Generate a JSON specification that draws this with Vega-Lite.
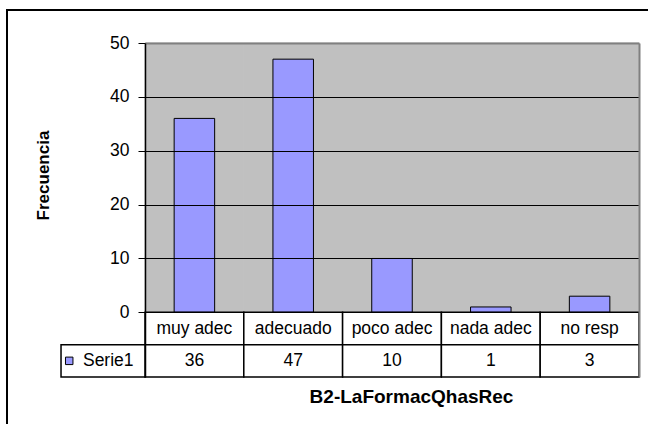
{
  "$schema": "https://vega.github.io/schema/vega-lite/v6.json",
  "autosize": "none",
  "padding": {"left": 7, "top": 10, "right": -6, "bottom": -6},
  "width": 647,
  "height": 420,
  "background": "white",
  "config": {
    "view": {"stroke": "black", "strokeWidth": 2, "fill": "white"},
    "font": "Liberation Sans",
    "text": {"font": "Liberation Sans", "fontSize": 17.5, "color": "black"}
  },
  "data": {"values": [
    {"cat": "muy adec", "v": 36},
    {"cat": "adecuado", "v": 47},
    {"cat": "poco adec", "v": 10},
    {"cat": "nada adec", "v": 1},
    {"cat": "no resp", "v": 3}
  ]},
  "resolve": {"axis": {"x": "independent", "y": "independent"}},
  "layer": [
    {
      "mark": {"type": "rect", "color": "#C0C0C0", "stroke": "#C0C0C0", "strokeWidth": 1},
      "encoding": {
        "x": {"field": "cat", "type": "nominal",
          "scale": {"type": "band", "domain": ["muy adec", "adecuado", "poco adec", "nada adec", "no resp"], "range": [138, 632], "paddingInner": 0, "paddingOuter": 0},
          "axis": {"orient": "bottom", "labels": false, "ticks": false, "domain": false, "grid": false,
            "title": "B2-LaFormacQhasRec", "titleFont": "Liberation Sans", "titleFontSize": 19, "titleFontWeight": "bold", "titleColor": "black",
            "titleX": 404, "titleY": -34, "titleBaseline": "middle", "titleAlign": "center"}},
        "y": {"datum": 0, "type": "quantitative",
          "scale": {"domain": [-12, 50], "range": [367, 33], "nice": false, "zero": false},
          "axis": {"orient": "left", "offset": -138, "values": [0, 10, 20, 30, 40, 50], "zindex": 1,
            "grid": true,
            "gridColor": {"condition": {"test": "datum.value === 50", "value": "#808080"}, "value": "black"},
            "gridWidth": {"condition": {"test": "datum.value === 50", "value": 2}, "value": 1},
            "gridOpacity": 1,
            "domainColor": "black", "domainWidth": 1.5, "tickColor": "black", "tickSize": 7, "tickWidth": 1,
            "labelFont": "Liberation Sans", "labelFontSize": 17.5, "labelColor": "black", "labelPadding": 9,
            "title": "Frecuencia", "titleFont": "Liberation Sans", "titleFontSize": 17, "titleFontWeight": "bold", "titleColor": "black",
            "titleX": -102, "titleY": 165, "titleBaseline": "middle", "titleAlign": "center", "titleAngle": -90}},
        "y2": {"datum": 50}
      }
    },
    {
      "mark": {"type": "bar", "color": "#9999FF", "stroke": "black", "strokeWidth": 1, "width": {"band": 0.41}, "zindex": 2},
      "encoding": {
        "x": {"field": "cat", "type": "nominal", "axis": null},
        "y": {"field": "v", "type": "quantitative",
          "axis": {"orient": "right", "offset": -15, "labels": false, "ticks": false, "grid": false, "title": null,
            "domainColor": "#808080", "domainWidth": 2, "zindex": 1}}
      }
    },
    {
      "mark": {"type": "rect", "fill": "white", "stroke": "black", "strokeWidth": 1.5, "zindex": 2},
      "encoding": {
        "x": {"field": "cat", "type": "nominal", "axis": null},
        "y": {"datum": 0, "type": "quantitative", "axis": null},
        "y2": {"datum": -6}
      }
    },
    {
      "mark": {"type": "rect", "fill": "white", "stroke": "black", "strokeWidth": 1.5, "zindex": 2},
      "encoding": {
        "x": {"field": "cat", "type": "nominal", "axis": null},
        "y": {"datum": -6, "type": "quantitative", "axis": null},
        "y2": {"datum": -12}
      }
    },
    {
      "mark": {"type": "text", "fontSize": 17.5, "baseline": "middle", "align": "center", "zindex": 3},
      "encoding": {
        "x": {"field": "cat", "type": "nominal", "axis": null},
        "y": {"datum": -3, "type": "quantitative", "axis": null},
        "text": {"field": "cat"}
      }
    },
    {
      "mark": {"type": "text", "fontSize": 17.5, "baseline": "middle", "align": "center", "zindex": 3},
      "encoding": {
        "x": {"field": "cat", "type": "nominal", "axis": null},
        "y": {"datum": -9, "type": "quantitative", "axis": null},
        "text": {"field": "v"}
      }
    },
    {
      "data": {"values": [{"serie": "Serie1"}]},
      "layer": [
        {
          "mark": {"type": "rect", "fill": "white", "stroke": "black", "strokeWidth": 1.5, "zindex": 2},
          "encoding": {
            "x": {"datum": "muy adec", "type": "nominal", "bandPosition": -0.85, "axis": null},
            "x2": {"datum": "muy adec", "bandPosition": 0},
            "y": {"datum": -6, "type": "quantitative", "axis": null},
            "y2": {"datum": -12}
          }
        },
        {
          "mark": {"type": "point", "shape": "square", "size": 56, "filled": true, "fill": "#9999FF", "stroke": "black", "strokeWidth": 1, "opacity": 1, "zindex": 3},
          "encoding": {
            "x": {"datum": "muy adec", "type": "nominal", "bandPosition": -0.767, "axis": null},
            "y": {"datum": -9, "type": "quantitative", "axis": null}
          }
        },
        {
          "mark": {"type": "text", "fontSize": 17.5, "baseline": "middle", "align": "left", "zindex": 3},
          "encoding": {
            "x": {"datum": "muy adec", "type": "nominal", "bandPosition": -0.628, "axis": null},
            "y": {"datum": -9, "type": "quantitative", "axis": null},
            "text": {"field": "serie"}
          }
        }
      ]
    }
  ]
}
